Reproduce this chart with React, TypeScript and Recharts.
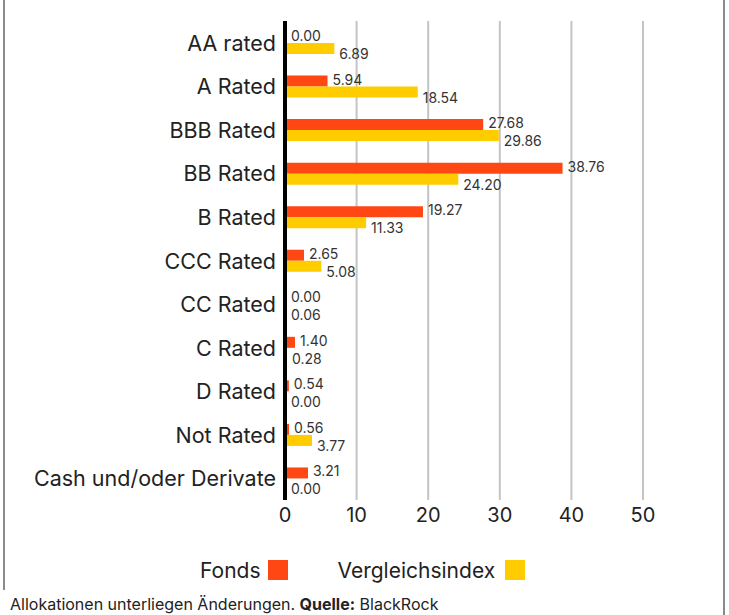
import { BarChart, Bar, XAxis, YAxis, CartesianGrid, LabelList } from 'recharts'

const categories = [
  'AA rated',
  'A Rated',
  'BBB Rated',
  'BB Rated',
  'B Rated',
  'CCC Rated',
  'CC Rated',
  'C Rated',
  'D Rated',
  'Not Rated',
  'Cash und/oder Derivate',
]
const fonds = [0.0, 5.94, 27.68, 38.76, 19.27, 2.65, 0.0, 1.4, 0.54, 0.56, 3.21]
const vergleichsindex = [6.89, 18.54, 29.86, 24.2, 11.33, 5.08, 0.06, 0.28, 0.0, 3.77, 0.0]
const xTicks = [0, 10, 20, 30, 40, 50]

const ORANGE = '#FF4714'
const YELLOW = '#FFCC00'
const FONT = 'Inter, "Noto Sans", sans-serif'

const data = categories.map((name, i) => ({
  name,
  fonds: fonds[i],
  vergleichsindex: vergleichsindex[i],
}))

// zero bars get 1px (hidden behind the axis) so their labels still render
const valueLabel = (dy: number) => (props: any) => {
  const { x, y, width, height, value } = props
  return (
    <text
      x={x + width + 5}
      y={y + height / 2 + dy}
      fontSize={14}
      fill="#333"
      fontFamily={FONT}
      dominantBaseline="central"
    >
      {Number(value).toFixed(2)}
    </text>
  )
}

const CategoryTick = (props: any) => {
  const { x, y, payload } = props
  return (
    <text
      x={x - 9}
      y={y}
      textAnchor="end"
      dominantBaseline="central"
      fontSize={21.5}
      fill="#222"
      fontFamily={FONT}
    >
      {payload.value}
    </text>
  )
}

const ValueTick = (props: any) => {
  const { x, y, payload } = props
  return (
    <text
      x={x}
      y={y + 15}
      textAnchor="middle"
      dominantBaseline="central"
      fontSize={20}
      fill="#222"
      fontFamily={FONT}
    >
      {payload.value}
    </text>
  )
}

export default function App() {
  return (
    <div style={{ position: 'absolute', left: 0, top: 0, width: 729, height: 615, background: '#fff', fontFamily: FONT }}>
      <div style={{ position: 'absolute', left: 3, top: 0, width: 2, height: 590, background: '#8a8a8a' }} />
      <div style={{ position: 'absolute', left: 723, top: 0, width: 2, height: 615, background: '#8a8a8a' }} />
      <BarChart
        width={729}
        height={545}
        data={data}
        layout="vertical"
        margin={{ top: 21, right: 86, left: 0, bottom: 0 }}
        barGap={0}
      >
        <CartesianGrid horizontal={false} stroke="#c4c4c4" strokeWidth={2} />
        <XAxis
          type="number"
          domain={[0, 50]}
          ticks={xTicks}
          axisLine={false}
          tickLine={false}
          tickSize={0}
          tickMargin={0}
          height={45}
          tick={<ValueTick />}
        />
        <YAxis
          type="category"
          dataKey="name"
          width={285}
          axisLine={{ stroke: '#000', strokeWidth: 4 }}
          tickLine={false}
          tickSize={0}
          tickMargin={0}
          interval={0}
          tick={<CategoryTick />}
        />
        <Bar dataKey="fonds" fill={ORANGE} barSize={11} minPointSize={1} isAnimationActive={false}>
          <LabelList dataKey="fonds" content={valueLabel(-2)} />
        </Bar>
        <Bar dataKey="vergleichsindex" fill={YELLOW} barSize={11} minPointSize={1} isAnimationActive={false}>
          <LabelList dataKey="vergleichsindex" content={valueLabel(5)} />
        </Bar>
      </BarChart>
      <div style={{ position: 'absolute', left: 200, top: 558, height: 24, display: 'flex', alignItems: 'center', fontSize: 21, color: '#222' }}>
        <span>Fonds</span>
        <span style={{ display: 'inline-block', width: 20, height: 20, background: ORANGE, marginLeft: 7 }} />
        <span style={{ marginLeft: 50 }}>Vergleichsindex</span>
        <span style={{ display: 'inline-block', width: 20, height: 20, background: YELLOW, marginLeft: 10 }} />
      </div>
      <div style={{ position: 'absolute', left: 10, top: 594, fontSize: 16, color: '#222', whiteSpace: 'nowrap' }}>
        Allokationen unterliegen Änderungen. <b>Quelle:</b> BlackRock
      </div>
    </div>
  )
}
